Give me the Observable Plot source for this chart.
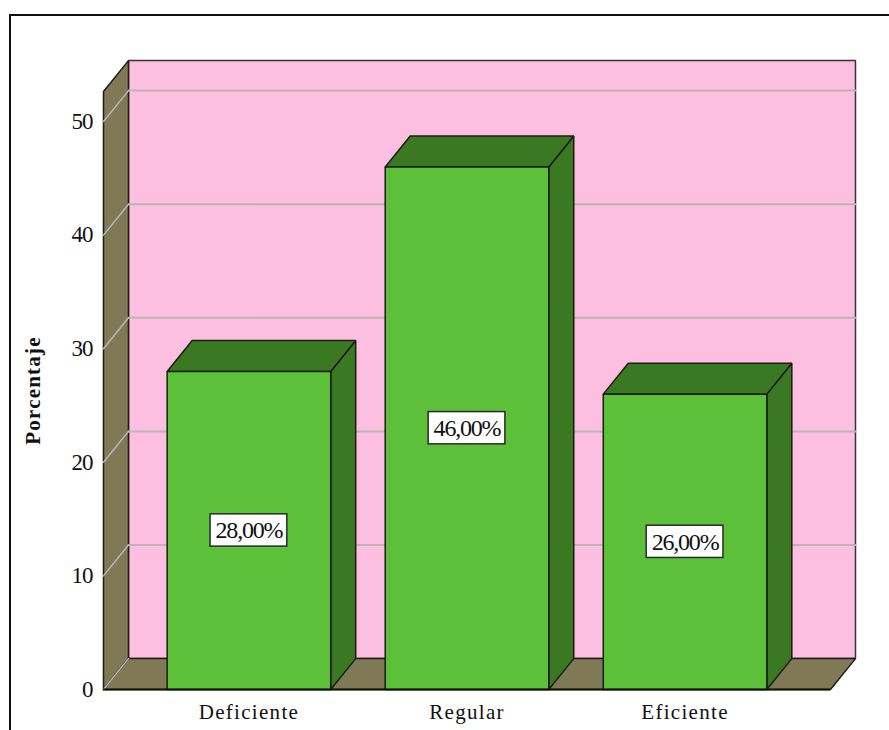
<!DOCTYPE html>
<html>
<head>
<meta charset="utf-8">
<script src="https://cdn.jsdelivr.net/npm/d3@7"></script>
<script src="https://cdn.jsdelivr.net/npm/@observablehq/plot@0.6"></script>
<style>
  html, body { margin: 0; padding: 0; background: #fff; width: 889px; height: 730px; overflow: hidden; }
  #frame { position: absolute; left: 9px; top: 14px; right: 0; bottom: 0; border-left: 2px solid #111; border-top: 2px solid #111; }
  #chart { position: absolute; left: 0; top: 0; }
  #chart svg { display: block; background: transparent; }
  .cat-axis text { letter-spacing: 1.3px; }
  .axis-title text { letter-spacing: 1.2px; }
  .val-label text { letter-spacing: -1.2px; }
  .val-axis text { letter-spacing: -1px; }
</style>
</head>
<body>
<div id="frame"></div>
<div id="chart"></div>
<script>
const categories = ["Deficiente", "Regular", "Eficiente"];
const percentages = [28, 46, 26];
const valueLabels = ["28,00%", "46,00%", "26,00%"];
const axisTicks = [0, 10, 20, 30, 40, 50];

// Oblique box projection: depth 1 shifts a point right (in category units) and up (in percent)
const depthX = 0.1146;
const depthY = 2.72;
const barHalf = 0.375;
const xMin = -0.667, xMax = 2.667, wallTop = 52.64;

const pt = (u, v, d = 0) => ({x: u + d * depthX, y: v + d * depthY});
const face = (corners, fill, stroke = "#1c1c14", strokeWidth = 1.5) =>
  Plot.line([...corners, corners[0]].map(c => pt(...c)), {x: "x", y: "y", fill, stroke, strokeWidth, strokeLinejoin: "miter"});

const pink = "#fdbfe0", olive = "#7f7a55", green = "#5cc138", greenDark = "#3a7822", gridColor = "#bdb5b5";

const shell = [
  face([[xMin, 0, 1], [xMax, 0, 1], [xMax, wallTop, 1], [xMin, wallTop, 1]], pink, "#3c3038", 1.5),
  face([[xMin, 0, 0], [xMin, 0, 1], [xMin, wallTop, 1], [xMin, wallTop, 0]], olive),
  face([[xMin, 0, 0], [xMax, 0, 0], [xMax, 0, 1], [xMin, 0, 1]], olive)
];

// Grid wraps from the left wall onto the back wall
const gridMarks = axisTicks.flatMap(t => {
  const marks = [Plot.line([pt(xMin, t, 0), pt(xMin, t, 1)], {x: "x", y: "y", stroke: gridColor, strokeWidth: 1.5})];
  if (t > 0) marks.push(Plot.line([pt(xMin, t, 1), pt(xMax, t, 1)], {x: "x", y: "y", stroke: gridColor, strokeWidth: 2}));
  return marks;
});

const bars = percentages.flatMap((v, i) => {
  const a = i - barHalf, b = i + barHalf;
  return [
    face([[b, 0, 0], [b, 0, 1], [b, v, 1], [b, v, 0]], greenDark),
    face([[a, v, 0], [b, v, 0], [b, v, 1], [a, v, 1]], greenDark),
    face([[a, 0, 0], [b, 0, 0], [b, v, 0], [a, v, 0]], green)
  ];
});

const labelData = percentages.map((v, i) => ({i, v, text: valueLabels[i]}));

const plot = Plot.plot({
  width: 889,
  height: 730,
  marginLeft: 103,
  marginRight: 59,
  marginTop: 121,
  marginBottom: 41,
  x: {domain: [xMin, xMax], axis: null},
  y: {domain: [0, 50], axis: null},
  marks: [
    ...shell,
    ...gridMarks,
    ...bars,
    Plot.ruleY([0], {stroke: "#14140e", strokeWidth: 2}),
    Plot.rect(labelData, {
      x1: d => d.i - 0.176, x2: d => d.i + 0.176,
      y1: d => d.v / 2 - 1.42, y2: d => d.v / 2 + 1.42,
      fill: "#fff", stroke: "#2a2a2a", strokeWidth: 1.5
    }),
    Plot.text(labelData, {
      x: "i", y: d => d.v / 2, text: "text", fontSize: 24,
      fontFamily: "Liberation Serif", fill: "#111", className: "val-label"
    }),
    Plot.axisY({
      ticks: axisTicks, tickSize: 0, tickPadding: 11, fontSize: 23,
      fontFamily: "Liberation Serif", fill: "#111", label: null, className: "val-axis"
    }),
    Plot.axisX({
      ticks: [0, 1, 2], tickFormat: i => categories[i], tickSize: 0, tickPadding: 15,
      fontSize: 21, fontFamily: "Liberation Serif", fill: "#111", label: null, className: "cat-axis"
    }),
    Plot.text(["Porcentaje"], {
      frameAnchor: "left", textAnchor: "middle", dx: -70, dy: -15, rotate: -90, text: d => d,
      fontSize: 21, fontWeight: "bold", fontFamily: "Liberation Serif", fill: "#111", className: "axis-title"
    })
  ]
});
document.getElementById("chart").append(plot);
</script>
</body>
</html>
